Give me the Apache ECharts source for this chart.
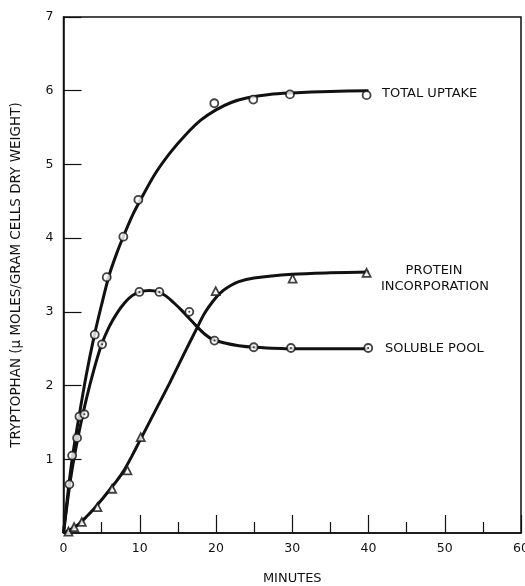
<!DOCTYPE html>
<html>
<head>
<meta charset="utf-8">
<script src="https://cdn.jsdelivr.net/npm/echarts@6/dist/echarts.min.js"></script>
<style>html,body{margin:0;padding:0;background:#fff;}#c{width:525px;height:586px;}</style>
</head>
<body>
<div id="c"></div>
<script>
// x-axis ticks (minutes) and y-axis ticks
var xTicks = [0, 10, 20, 30, 40, 50, 60];
var yTicks = [0, 1, 2, 3, 4, 5, 6, 7];

// Measured points [minutes, value]
var totalUptakePts = [[0.77,0.66],[1.13,1.05],[1.78,1.29],[2.09,1.58],[4.1,2.69],[5.67,3.47],[7.85,4.02],[9.82,4.52],[19.78,5.83],[24.89,5.88],[29.7,5.95],[39.75,5.94]];
var solublePoolPts = [[2.74,1.61],[5.06,2.56],[9.95,3.27],[12.57,3.27],[16.5,3.0],[19.8,2.61],[24.95,2.52],[29.83,2.51],[39.96,2.51]];
var proteinPts = [[0.65,0.02],[1.39,0.08],[2.4,0.15],[4.45,0.35],[6.37,0.6],[8.38,0.85],[10.13,1.3],[19.96,3.28],[30.05,3.45],[39.75,3.53]];

// Fitted (hand-drawn) curves
var totalUptakeCurve = [[0,0],[0.5,0.47],[1,0.9],[1.5,1.25],[2,1.56],[3,2.15],[4,2.66],[5,3.1],[6,3.5],[7,3.8],[8,4.06],[9,4.3],[10,4.5],[12,4.87],[14,5.16],[16,5.4],[18,5.6],[20,5.74],[22,5.84],[24,5.9],[27,5.95],[30,5.97],[35,5.99],[40,6.0]];
var solublePoolCurve = [[0,0],[1,0.78],[2,1.35],[3,1.82],[4,2.22],[5,2.56],[6,2.8],[7,2.98],[8,3.12],[9,3.22],[10,3.27],[11.25,3.29],[12.5,3.27],[13.5,3.21],[14.5,3.12],[15.5,3.02],[16.5,2.91],[17.5,2.8],[18.5,2.7],[19.5,2.63],[21,2.58],[23,2.54],[25,2.52],[30,2.5],[40,2.5]];
var proteinCurve = [[0,0],[1,0.05],[2,0.12],[3,0.22],[4,0.33],[5,0.45],[6,0.58],[7,0.71],[8,0.86],[9,1.05],[10,1.25],[12,1.65],[14,2.05],[16,2.47],[17.5,2.78],[18.5,2.98],[19.5,3.13],[20.5,3.25],[21.5,3.33],[23,3.41],[25,3.46],[30,3.51],[35,3.53],[40,3.54]];

var seriesLabels = ['TOTAL UPTAKE', 'PROTEIN', 'INCORPORATION', 'SOLUBLE POOL'];
var xName = 'MINUTES';
var yName = 'TRYPTOPHAN (\u03BC MOLES/GRAM CELLS DRY WEIGHT)';

var ink = '#111';
var font = 'DejaVu Sans';
var chart = echarts.init(document.getElementById('c'), null, {renderer: 'canvas'});

function curve(data) {
  return {type: 'line', data: data, smooth: 0.3, showSymbol: false, symbol: 'none',
    lineStyle: {color: ink, width: 3}, silent: true, z: 2};
}

chart.setOption({
  animation: false,
  backgroundColor: '#fff',
  grid: {left: 63.5, right: 4, top: 17, bottom: 53, show: true, borderColor: ink, borderWidth: 1.5, outerBoundsMode: 'none'},
  xAxis: {
    type: 'value', min: xTicks[0], max: xTicks[xTicks.length - 1], interval: 10,
    name: xName, nameLocation: 'middle', nameGap: 39,
    nameTextStyle: {fontFamily: font, fontSize: 13, color: ink},
    axisLine: {lineStyle: {color: ink, width: 1.5}},
    axisTick: {inside: true, length: 18, lineStyle: {color: ink, width: 1.2}},
    minorTick: {show: true, splitNumber: 2, length: 11, lineStyle: {color: ink, width: 1.2}},
    axisLabel: {fontFamily: font, fontSize: 12.5, color: ink, margin: 9},
    splitLine: {show: false}
  },
  yAxis: {
    type: 'value', min: yTicks[0], max: yTicks[yTicks.length - 1], interval: 1,
    name: yName, nameLocation: 'middle', nameGap: 40,
    nameTextStyle: {fontFamily: font, fontSize: 13.5, color: ink},
    axisLine: {lineStyle: {color: ink, width: 1.5}},
    axisTick: {inside: true, length: 18, lineStyle: {color: ink, width: 1.2}},
    axisLabel: {fontFamily: font, fontSize: 12.5, color: ink, margin: 10, showMinLabel: false},
    splitLine: {show: false}
  },
  series: [
    curve(totalUptakeCurve),
    curve(solublePoolCurve),
    curve(proteinCurve),
    {type: 'scatter', data: totalUptakePts, symbol: 'circle', symbolSize: 8,
      itemStyle: {color: '#fff', borderColor: ink, borderWidth: 1.8}, z: 3},
    {type: 'scatter', data: solublePoolPts, symbol: 'circle', symbolSize: 8,
      itemStyle: {color: '#fff', borderColor: ink, borderWidth: 1.8}, z: 3},
    {type: 'scatter', data: solublePoolPts, symbol: 'circle', symbolSize: 2,
      itemStyle: {color: ink}, z: 4},
    {type: 'scatter', data: proteinPts, symbol: 'triangle', symbolSize: 8,
      itemStyle: {color: '#fff', borderColor: ink, borderWidth: 1.8}, z: 3}
  ],
  graphic: [
    {type: 'text', x: 382, y: 94, style: {text: seriesLabels[0], fill: ink, font: '13px "DejaVu Sans"', textAlign: 'left', textVerticalAlign: 'middle'}},
    {type: 'text', x: 434, y: 271, style: {text: seriesLabels[1], fill: ink, font: '13px "DejaVu Sans"', textAlign: 'center', textVerticalAlign: 'middle'}},
    {type: 'text', x: 435, y: 287, style: {text: seriesLabels[2], fill: ink, font: '13px "DejaVu Sans"', textAlign: 'center', textVerticalAlign: 'middle'}},
    {type: 'text', x: 385, y: 349, style: {text: seriesLabels[3], fill: ink, font: '13px "DejaVu Sans"', textAlign: 'left', textVerticalAlign: 'middle'}}
  ]
});
</script>
</body>
</html>
